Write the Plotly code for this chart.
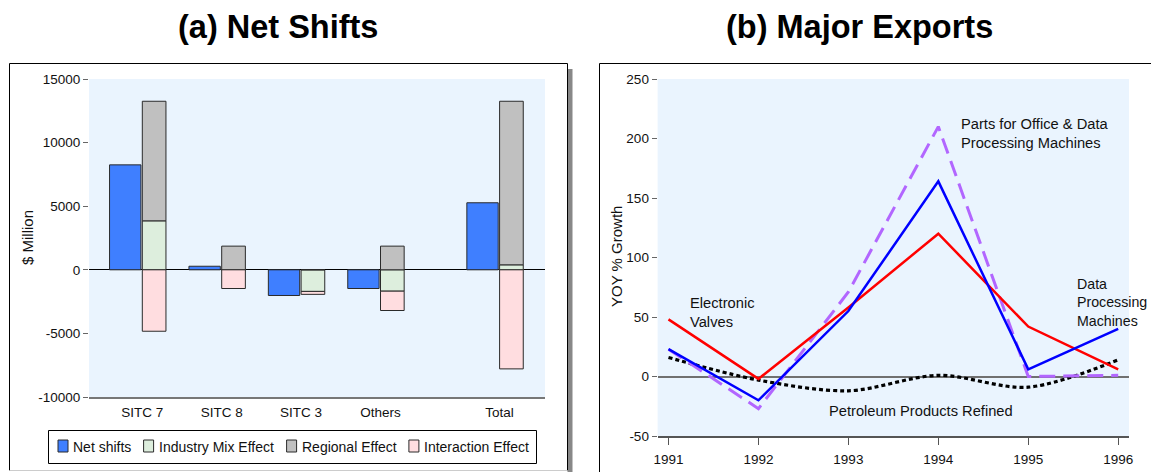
import plotly.graph_objects as go

W, H = 1151, 472

# ---- (a) Net shifts data ($ million) ----
categories = ["SITC 7", "SITC 8", "SITC 3", "Others", "Total"]
cat_pos = [1, 2, 3, 4, 5.5]
net_shifts = [8250, 280, -2020, -1470, 5270]
industry_mix = [3850, 0, -1700, -1680, 390]
regional = [9400, 1860, 0, 1860, 12860]
interaction = [-4830, -1470, -230, -1520, -7790]
y_ticks_a = [-10000, -5000, 0, 5000, 10000, 15000]

# ---- (b) Major exports, YOY % growth ----
years = [1991, 1992, 1993, 1994, 1995, 1996]
electronic_valves = [48, -2, 58, 120, 42, 6]
data_processing = [23, -20, 55, 164, 6, 40]
office_parts = [23, -27, 71, 210, 0, 1]
petroleum_refined = [16, -3, -12, 1, -9, 14]
y_ticks_b = [-50, 0, 50, 100, 150, 200, 250]

FONT = "Liberation Sans, Arial, sans-serif"
BG = "#EAF4FE"
EDGE = "#2a2a2a"
TXT = "#111"

C_NET = "#3F7FFF"
C_MIX = "#DDEEDD"
C_REG = "#C0C0C0"
C_INT = "#FFDDE0"


def px(x):
    return x / W


def py(y):
    return 1 - y / H


fig = go.Figure()

# grouped layout: net shift bar on the left, stacked components on the right
net_off, net_w = -0.215, 0.395
stk_off, stk_w = 0.149, 0.298
net_x = [p + net_off for p in cat_pos]
stk_x = [p + stk_off for p in cat_pos]

fig.add_trace(go.Bar(x=net_x, y=net_shifts, width=net_w, name="Net shifts",
                     marker=dict(color=C_NET, line=dict(color=EDGE, width=1)),
                     xaxis="x", yaxis="y", showlegend=False))
for vals, col, name in [(industry_mix, C_MIX, "Industry Mix Effect"),
                        (regional, C_REG, "Regional Effect"),
                        (interaction, C_INT, "Interaction Effect")]:
    fig.add_trace(go.Bar(x=stk_x, y=vals, width=stk_w, name=name,
                         marker=dict(color=col, line=dict(color=EDGE, width=1)),
                         xaxis="x", yaxis="y", showlegend=False))

# export growth lines
fig.add_trace(go.Scatter(x=years, y=petroleum_refined, mode="lines",
                         line=dict(color="black", width=3.2, dash="4px,3px",
                                   shape="spline", smoothing=0.9),
                         xaxis="x2", yaxis="y2", showlegend=False))
fig.add_trace(go.Scatter(x=years, y=office_parts, mode="lines",
                         line=dict(color="#B266FF", width=3, dash="16px,8px"),
                         xaxis="x2", yaxis="y2", showlegend=False))
fig.add_trace(go.Scatter(x=years, y=electronic_valves, mode="lines",
                         line=dict(color="#FF0000", width=2.5),
                         xaxis="x2", yaxis="y2", showlegend=False))
fig.add_trace(go.Scatter(x=years, y=data_processing, mode="lines",
                         line=dict(color="#0000FF", width=2.5),
                         xaxis="x2", yaxis="y2", showlegend=False))

tickfont = dict(family=FONT, size=13.5, color=TXT)

# category axis: 79.4 px per category, first category centred at x=142.3 px
unit = 79.4
xa_range = [1 + (89 - 142.3) / unit, 1 + (545 - 142.3) / unit]

fig.update_layout(
    width=W, height=H,
    margin=dict(l=0, r=0, t=0, b=0, pad=0, autoexpand=False),
    paper_bgcolor="white",
    plot_bgcolor=BG,
    barmode="relative",
    font=dict(family=FONT, size=13, color=TXT),
    xaxis=dict(domain=[px(89), px(545)], range=xa_range,
               tickvals=cat_pos, ticktext=categories,
               ticks="outside", ticklen=2, tickcolor="rgba(0,0,0,0)",
               showline=True, linecolor="#777", linewidth=1.5,
               showgrid=False, zeroline=False, tickfont=tickfont,
               automargin=False, fixedrange=True),
    yaxis=dict(domain=[py(397), py(79)], range=[-10000, 15000],
               tickvals=y_ticks_a, ticktext=[str(v) for v in y_ticks_a],
               ticks="outside", ticklen=5, tickcolor="#666", tickwidth=1,
               showline=False, showgrid=False,
               zeroline=True, zerolinecolor="black", zerolinewidth=1,
               tickfont=tickfont, automargin=False, fixedrange=True),
    xaxis2=dict(domain=[px(657.6), px(1129)], range=[1990.879, 1996.12],
                tickvals=years, ticktext=[str(v) for v in years],
                ticks="outside", ticklen=7, tickcolor="#555",
                ticklabelstandoff=3,
                showline=True, linecolor="#555", linewidth=1.5,
                showgrid=False, zeroline=False, tickfont=tickfont,
                anchor="y2", automargin=False, fixedrange=True),
    yaxis2=dict(domain=[py(436), py(79)], range=[-50, 250],
                tickvals=y_ticks_b, ticktext=[str(v) for v in y_ticks_b],
                ticks="outside", ticklen=5, tickcolor="#666",
                showline=False, showgrid=False,
                zeroline=True, zerolinecolor="#707070", zerolinewidth=2,
                tickfont=tickfont, anchor="x2", automargin=False, fixedrange=True),
)

lab_font = dict(family=FONT, size=14.7, color=TXT)

annotations = [
    dict(text="<b>(a) Net Shifts</b>", x=px(278), y=py(27), xref="paper", yref="paper",
         xanchor="center", yanchor="middle",
         showarrow=False, font=dict(family=FONT, size=32.5, color="black")),
    dict(text="<b>(b) Major Exports</b>", x=px(860), y=py(27), xref="paper", yref="paper",
         xanchor="center", yanchor="middle",
         showarrow=False, font=dict(family=FONT, size=32.5, color="black")),
    dict(text="$ Million", x=px(27), y=py(238), xref="paper", yref="paper",
         xanchor="center", yanchor="middle",
         textangle=-90, showarrow=False, font=dict(family=FONT, size=15, color=TXT)),
    dict(text="YOY % Growth", x=px(616), y=py(257), xref="paper", yref="paper",
         xanchor="center", yanchor="middle",
         textangle=-90, showarrow=False, font=dict(family=FONT, size=15, color=TXT)),
    # series labels on the line chart
    dict(text="Parts for Office & Data<br>Processing Machines", x=1994.227, y=204,
         xref="x2", yref="y2", xanchor="left", yanchor="middle", align="left",
         showarrow=False, font=lab_font),
    dict(text="Electronic<br>Valves", x=1991.217, y=53.6,
         xref="x2", yref="y2", xanchor="left", yanchor="middle", align="left",
         showarrow=False, font=lab_font),
    dict(text="Data<br>Processing<br>Machines", x=1995.515, y=62.2,
         xref="x2", yref="y2", xanchor="left", yanchor="middle", align="left",
         showarrow=False, font=dict(family=FONT, size=14.2, color=TXT)),
    dict(text="Petroleum Products Refined", x=1993.81, y=-28.6,
         xref="x2", yref="y2", xanchor="center", yanchor="middle",
         showarrow=False, font=lab_font),
]

shapes = [
    # left panel frame with drop shadow
    dict(type="rect", xref="paper", yref="paper", x0=px(567.5), x1=px(572.5),
         y0=py(472), y1=py(69), fillcolor="#888", line=dict(width=0)),
    dict(type="path", xref="paper", yref="paper",
         path=f"M{px(9.5)},{py(470.5)} L{px(9.5)},{py(63.5)} L{px(567.5)},{py(63.5)} L{px(567.5)},{py(470.5)}",
         line=dict(color="black", width=1)),
    dict(type="line", xref="paper", yref="paper", x0=px(9.5), x1=px(567.5),
         y0=py(470.5), y1=py(470.5), line=dict(color="#ccc", width=1)),
    # right panel frame
    dict(type="path", xref="paper", yref="paper",
         path=f"M{px(599.5)},{py(472)} L{px(599.5)},{py(63.5)} L{px(1151)},{py(63.5)}",
         line=dict(color="black", width=1)),
    # legend box
    dict(type="rect", xref="paper", yref="paper", x0=px(48.5), x1=px(536.5),
         y0=py(463.5), y1=py(430.5), fillcolor="white", line=dict(color="black", width=1)),
]

# legend entries
legend_names = ["Net shifts", "Industry Mix Effect", "Regional Effect", "Interaction Effect"]
legend_colors = [C_NET, C_MIX, C_REG, C_INT]
legend_left = [58, 143.6, 286.6, 408.9]
for name, col, lx in zip(legend_names, legend_colors, legend_left):
    shapes.append(dict(type="rect", xref="paper", yref="paper",
                       x0=px(lx), x1=px(lx + 10), y0=py(452), y1=py(440),
                       fillcolor=col, line=dict(color=EDGE, width=1)))
    annotations.append(dict(text=name, x=px(lx + 13), y=py(447), xref="paper", yref="paper",
                            xanchor="left", yanchor="middle", showarrow=False,
                            font=dict(family=FONT, size=14, color=TXT)))

fig.update_layout(annotations=annotations, shapes=shapes)

fig.write_html("out.html")
